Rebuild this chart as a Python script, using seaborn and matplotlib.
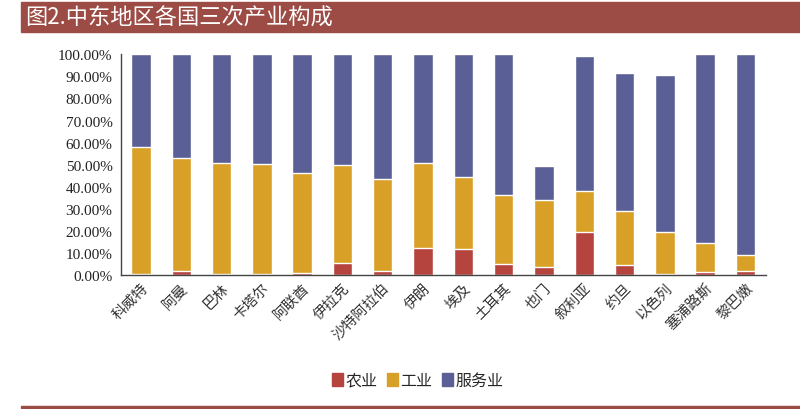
import numpy as np
import pandas as pd
import matplotlib
matplotlib.use('Agg')
import matplotlib.pyplot as plt
from matplotlib.patches import Rectangle
from matplotlib.ticker import PercentFormatter, FixedLocator
import seaborn as sns

# Data (share of GDP, %)
countries = ['科威特', '阿曼', '巴林', '卡塔尔', '阿联酋', '伊拉克', '沙特阿拉伯', '伊朗',
             '埃及', '土耳其', '也门', '叙利亚', '约旦', '以色列', '塞浦路斯', '黎巴嫩']
agriculture = [0.3, 1.8, 0.3, 0.2, 0.7, 5.4, 2.0, 12.1, 11.9, 4.8, 3.5, 19.5, 4.7, 0.3, 1.2, 2.0]
industry = [57.6, 51.2, 50.3, 49.9, 45.4, 44.4, 41.3, 38.8, 32.4, 31.3, 30.3, 18.7, 24.1, 19.0, 13.2, 7.1]
services = [42.1, 47.0, 49.4, 49.9, 53.9, 50.2, 56.7, 49.1, 55.7, 63.9, 15.6, 61.2, 62.7, 71.2, 85.6, 90.9]

series_names = ['农业', '工业', '服务业']
colors = ['#B5443F', '#D9A027', '#5A5F95']

df = pd.DataFrame({'country': countries, 'agri': agriculture,
                   'ind': industry, 'serv': services})
df['c1'] = df['agri'] / 100
df['c2'] = (df['agri'] + df['ind']) / 100
df['c3'] = (df['agri'] + df['ind'] + df['serv']) / 100

sns.set_style('white')
plt.rcParams['font.family'] = ['Noto Sans CJK SC', 'DejaVu Sans']

fig = plt.figure(figsize=(8, 4.1), dpi=100)
ax = fig.add_axes([0.151, 0.327, 0.806, 0.538])

# stacked bars: draw cumulative totals from top layer down
for col, color in zip(['c3', 'c2', 'c1'], colors[::-1]):
    sns.barplot(data=df, x='country', y=col, color=color, width=0.48,
                saturation=1, ax=ax, errorbar=None)

ax.set_ylim(0, 1)
ax.set_xlim(-0.5, len(countries) - 0.5)
ax.set_yticks(np.arange(0, 1.01, 0.1))
ax.yaxis.set_major_formatter(PercentFormatter(1.0, decimals=2))
ax.set_xlabel('')
ax.set_ylabel('')

for s in ['top', 'right']:
    ax.spines[s].set_visible(False)
for s in ['left', 'bottom']:
    ax.spines[s].set_color('#444444')
    ax.spines[s].set_linewidth(1.0)

ax.tick_params(axis='y', which='major', direction='out', length=4, width=0.8,
               color='#444444', pad=2)
for lab in ax.get_yticklabels():
    lab.set_family(['Liberation Serif'])
    lab.set_fontsize(11)
    lab.set_color('#222222')

ax.tick_params(axis='x', which='major', length=0, pad=4)
ax.xaxis.set_minor_locator(FixedLocator(np.arange(-0.5, len(countries), 1)))
ax.tick_params(axis='x', which='minor', direction='out', length=4, width=0.8,
               color='#444444')
ax.set_xticks(range(len(countries)))
ax.set_xticklabels(countries, rotation=45, ha='right', rotation_mode='anchor',
                   fontsize=10.5, color='#333333')

# legend
handles = [Rectangle((0, 0), 1, 1, color=c) for c in colors]
fig.legend(handles, series_names, loc='center', bbox_to_anchor=(0.522, 0.07),
           ncol=3, frameon=False, fontsize=11.5, handlelength=0.7,
           handleheight=0.9, handletextpad=0.15, columnspacing=0.6)

# title banner
fig.patches.append(Rectangle((0.026, 0.92), 0.974, 0.073, transform=fig.transFigure,
                             color='#9C4B45', zorder=0))
fig.text(0.031, 0.956, '图2.中东地区各国三次产业构成', color='white',
         fontsize=16, va='center', ha='left')

# bottom rule
fig.patches.append(Rectangle((0.026, 0.003), 0.974, 0.004, transform=fig.transFigure,
                             color='#9C4B45', zorder=0))

fig.savefig('out.png', dpi=100)
